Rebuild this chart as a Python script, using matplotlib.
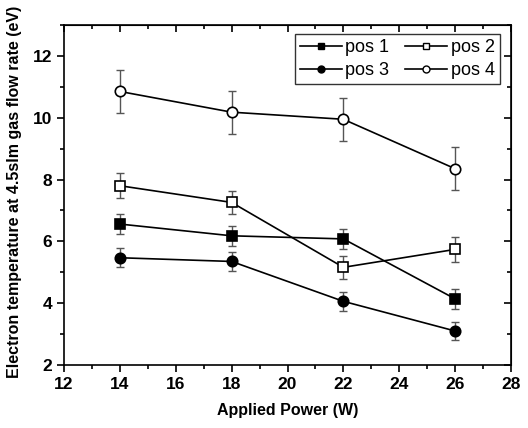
import matplotlib.pyplot as plt
from matplotlib.lines import Line2D
import numpy as np

power = [14, 18, 22, 26]

pos1 = [6.56, 6.18, 6.08, 4.14]
pos1_err = [0.33, 0.33, 0.33, 0.33]
pos2 = [7.80, 7.26, 5.16, 5.74]
pos2_err = [0.40, 0.38, 0.38, 0.40]
pos3 = [5.47, 5.35, 4.06, 3.10]
pos3_err = [0.30, 0.30, 0.30, 0.30]
pos4 = [10.85, 10.18, 9.95, 8.35]
pos4_err = [0.70, 0.70, 0.70, 0.70]

plt.rcParams['font.family'] = ['Liberation Sans', 'DejaVu Sans']

fig = plt.figure(figsize=(5.28, 4.28), dpi=100)
ax = fig.add_axes([64 / 528, 1 - 365 / 428, 447 / 528, 340 / 428])

series = [
    (pos1, pos1_err, 's', 'black', 'pos 1'),
    (pos2, pos2_err, 's', 'white', 'pos 2'),
    (pos3, pos3_err, 'o', 'black', 'pos 3'),
    (pos4, pos4_err, 'o', 'white', 'pos 4'),
]
handles = {}
for vals, errs, m, fc, lab in series:
    ms = 7.5 if m == 'o' else 7
    ax.errorbar(power, vals, yerr=errs, fmt='none', ecolor='#555555',
                elinewidth=1, capsize=3, capthick=1, zorder=2)
    ax.plot(power, vals, color='black', lw=1.2, marker=m, ms=ms,
            mfc=fc, mec='black', mew=1.2, zorder=3)
    handles[lab] = Line2D([], [], color='black', lw=1.2, marker=m, ms=5,
                          mfc=fc, mec='black', mew=1.0, label=lab)

ax.set_xlim(12, 28)
ax.set_ylim(2, 13)
ax.set_xticks(np.arange(12, 29, 2))
ax.set_xticks(np.arange(12, 29, 1), minor=True)
ax.set_yticks(np.arange(2, 13, 2))
ax.set_yticks(np.arange(2, 14, 1), minor=True)

ax.tick_params(which='both', direction='out', top=False, right=False,
               width=1.2)
ax.tick_params(which='major', length=5, labelsize=12.5)
ax.tick_params(which='minor', length=3)
for lab in ax.get_xticklabels() + ax.get_yticklabels():
    lab.set_fontweight('bold')

# inward ticks on top and right like Origin
sec_x = ax.secondary_xaxis('top')
sec_x.set_xticks(np.arange(12, 29, 2))
sec_x.set_xticks(np.arange(12, 29, 1), minor=True)
sec_x.tick_params(which='both', direction='in', labeltop=False, width=1.2)
sec_x.tick_params(which='major', length=5)
sec_x.tick_params(which='minor', length=3)
sec_y = ax.secondary_yaxis('right')
sec_y.set_yticks(np.arange(2, 13, 2))
sec_y.set_yticks(np.arange(2, 14, 1), minor=True)
sec_y.tick_params(which='both', direction='in', labelright=False, width=1.2)
sec_y.tick_params(which='major', length=5)
sec_y.tick_params(which='minor', length=3)

for s in ax.spines.values():
    s.set_linewidth(1.2)

ax.set_xlabel('Applied Power (W)', fontsize=11.5, fontweight='bold', labelpad=8)
ax.set_ylabel('Electron temperature at 4.5slm gas flow rate (eV)',
              fontsize=11.5, fontweight='bold')
ax.yaxis.set_label_coords(-0.095, 0.51)

# Origin fills the legend row by row
order = ['pos 1', 'pos 3', 'pos 2', 'pos 4']
leg = ax.legend(handles=[handles[k] for k in order], ncol=2,
                loc='upper right', bbox_to_anchor=(436 / 447, 331 / 340),
                fontsize=13, frameon=True, fancybox=False,
                edgecolor='black', handlelength=2.3, handletextpad=0.2,
                columnspacing=0.9, borderpad=0.3, labelspacing=0.3,
                borderaxespad=0)
leg.get_frame().set_linewidth(1.0)

plt.savefig('out.png', dpi=100)
